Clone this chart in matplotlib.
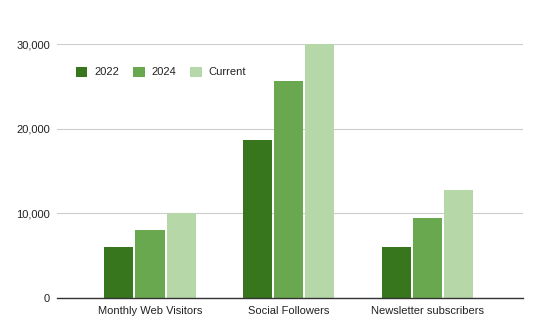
import matplotlib.pyplot as plt
import numpy as np

plt.rcParams['font.family'] = ['Liberation Sans', 'DejaVu Sans']

categories = ["Monthly Web Visitors", "Social Followers", "Newsletter subscribers"]
series_names = ["2022", "2024", "Current"]
values_2022 = [6000, 18700, 6000]
values_2024 = [8000, 25700, 9500]
values_current = [10000, 30000, 12800]
colors = ["#38761d", "#6aa84f", "#b6d7a8"]

fig = plt.figure(figsize=(5.4, 3.34), dpi=100)
ax = fig.add_axes([0.1056, 0.1078, 0.863, 0.760])

x = np.arange(len(categories))
width = 0.21
step = 0.225
for i, (name, vals) in enumerate(zip(series_names, [values_2022, values_2024, values_current])):
    ax.bar(x + (i - 1) * step, vals, width, color=colors[i], label=name, zorder=3)

ax.set_xlim(-0.67, 2.69)
ax.set_ylim(0, 30000)
ax.set_yticks([0, 10000, 20000, 30000])
ax.set_yticklabels(["0", "10,000", "20,000", "30,000"])
ax.set_xticks(x)
ax.set_xticklabels(categories)
ax.tick_params(axis='both', length=0, labelsize=8, colors="#222222")
ax.tick_params(axis='x', pad=6)
ax.tick_params(axis='y', pad=5)
ax.grid(axis='y', color="#cccccc", linewidth=0.8, zorder=0)
for s in ["top", "right", "left"]:
    ax.spines[s].set_visible(False)
ax.spines["bottom"].set_color("#333333")
ax.spines["bottom"].set_linewidth(1)
ax.spines["bottom"].set_zorder(4)

ax.legend(loc="center left", bbox_to_anchor=(0.02, 0.89), ncol=3, frameon=False,
          fontsize=8, handlelength=1, handleheight=1, columnspacing=1.3,
          handletextpad=0.6, labelcolor="#222222")

fig.savefig("out.png", dpi=100)
